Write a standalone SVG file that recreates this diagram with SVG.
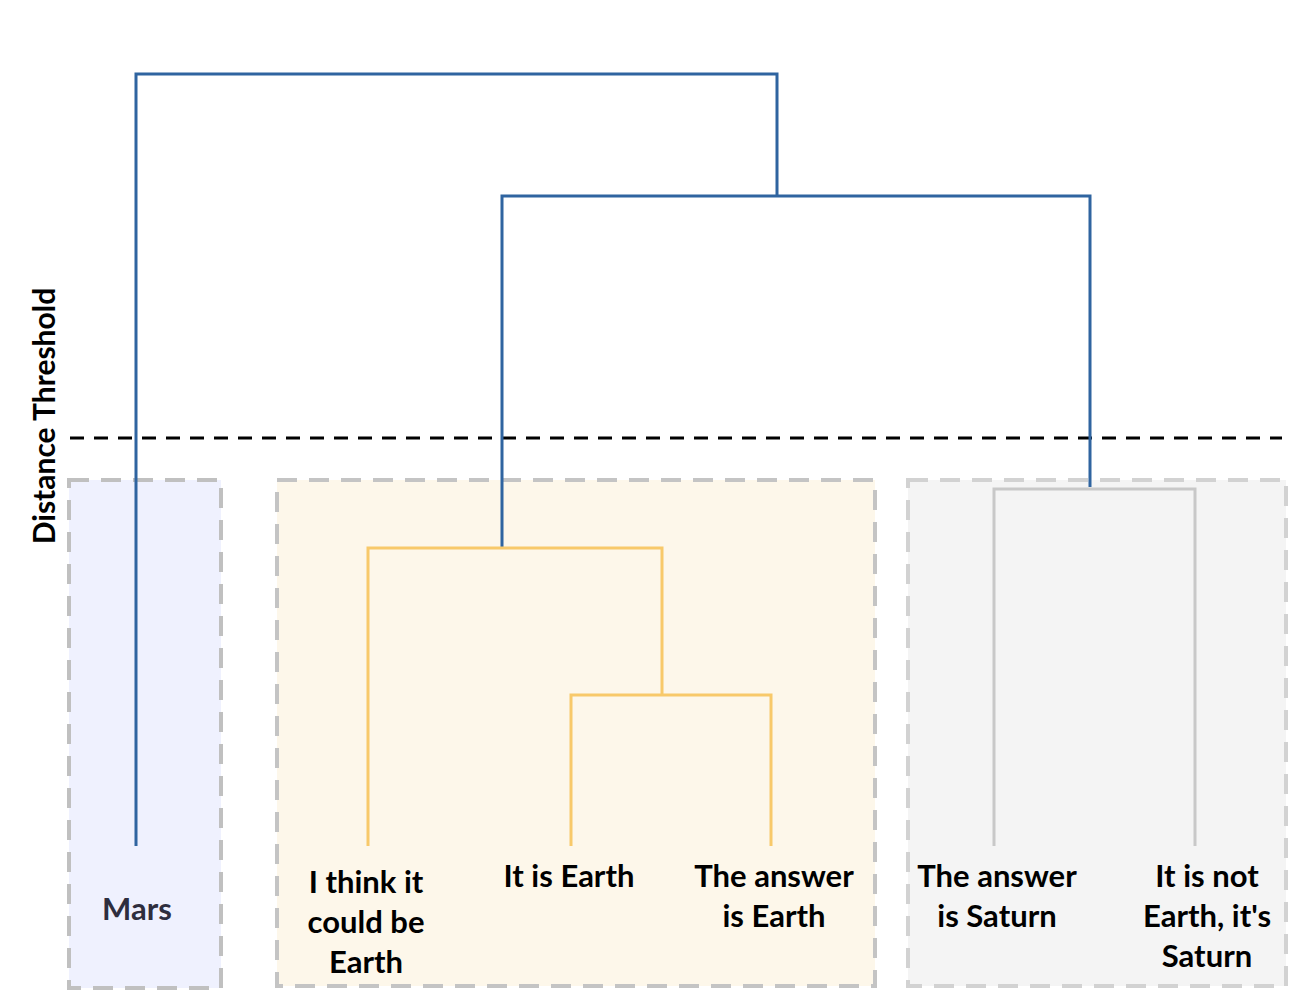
<svg xmlns="http://www.w3.org/2000/svg" width="1300" height="1000" viewBox="0 0 1300 1000">
<style>
.box{stroke-width:4;stroke-dasharray:20 12;}
.lbl{font-family:Lato,"Liberation Sans",sans-serif;font-weight:700;font-size:31px;fill:#000;text-anchor:middle;}
.blue{fill:none;stroke:#2f64a0;stroke-width:3;}
.yel{fill:none;stroke:#f8c96a;stroke-width:3;}
.gry{fill:none;stroke:#c8c8c8;stroke-width:3;}
</style>
<rect width="1300" height="1000" fill="#fff"/>
<g id="cluster-mars">
<rect class="box" x="69" y="480" width="152" height="508" fill="#eff1fe" stroke="#c0c0c0"/>
</g>
<g id="cluster-earth">
<rect class="box" x="277" y="480" width="598" height="506" fill="#fdf7ea" stroke="#c4c4c4"/>
</g>
<g id="cluster-saturn">
<rect class="box" x="908" y="480" width="378" height="506" fill="#f4f4f4" stroke="#d2d2d2"/>
</g>
<g id="threshold">
<line x1="70" y1="438" x2="1282" y2="438" stroke="#000" stroke-width="3" stroke-dasharray="14 10"/>
<text class="lbl" x="0" y="0" transform="translate(55,416) rotate(-90)" style="font-size:30px">Distance Threshold</text>
</g>
<g id="connectors">
<polyline class="blue" points="136,846 136,74 777,74 777,196"/>
<polyline class="blue" points="502,547 502,196 1090,196 1090,487"/>
<polyline class="yel" points="368,846 368,548 662,548 662,695"/>
<polyline class="yel" points="571,846 571,695 771,695 771,846"/>
<polyline class="gry" points="994,846 994,489 1195,489 1195,846"/>
</g>
<g id="leaf-mars"><text class="lbl" x="137" y="920" style="fill:#2e2e3e">Mars</text></g>
<g id="leaf-think"><text class="lbl" x="366" y="893">I think it</text><text class="lbl" x="366" y="933">could be</text><text class="lbl" x="366" y="973">Earth</text></g>
<g id="leaf-itis"><text class="lbl" x="569" y="887">It is Earth</text></g>
<g id="leaf-answer-earth"><text class="lbl" x="774" y="887">The answer</text><text class="lbl" x="774" y="927">is Earth</text></g>
<g id="leaf-answer-saturn"><text class="lbl" x="997" y="887">The answer</text><text class="lbl" x="997" y="927">is Saturn</text></g>
<g id="leaf-not-earth"><text class="lbl" x="1207" y="887">It is not</text><text class="lbl" x="1207" y="927">Earth, it's</text><text class="lbl" x="1207" y="967">Saturn</text></g>
</svg>
